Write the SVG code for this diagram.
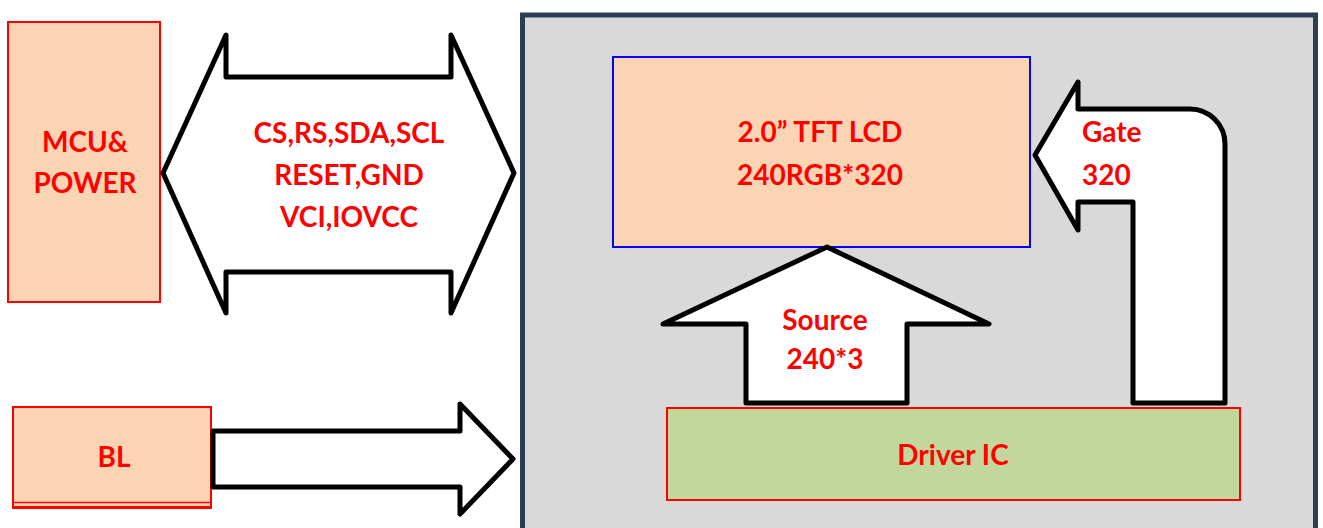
<svg xmlns="http://www.w3.org/2000/svg" width="1323" height="528" viewBox="0 0 1323 528">
<style>
.lbl{font-family:Lato,"Liberation Sans",sans-serif;font-weight:bold;font-size:28px;fill:#FF0000}
.mid{text-anchor:middle}
.box{fill:#FBD4B4;stroke:#FF0000;stroke-width:2}
.arr{fill:#FFFFFF;stroke:#000000;stroke-width:5;stroke-linejoin:round}
</style>
<rect width="1323" height="528" fill="#FFFFFF"/>
<g id="panel">
<rect x="522.5" y="15" width="793" height="530" fill="#D9D9D9" stroke="#2C3E57" stroke-width="5"/>
</g>
<g id="mcu">
<rect class="box" x="8" y="22" width="152" height="280"/>
<text class="lbl mid" x="85" y="152">MCU&amp;</text>
<text class="lbl mid" x="85" y="193">POWER</text>
</g>
<g id="bl">
<rect class="box" x="13" y="407" width="198" height="101"/>
<line x1="13" y1="502.5" x2="211" y2="502.5" stroke="#FF0000" stroke-width="1.5"/>
<line x1="13" y1="507.5" x2="211" y2="507.5" stroke="#FF0000" stroke-width="3"/>
<text class="lbl mid" x="114" y="467">BL</text>
</g>
<g id="lcd">
<rect x="613" y="57" width="417" height="190" fill="#FBD4B4" stroke="#0000FF" stroke-width="2"/>
<text class="lbl mid" x="820" y="142">2.0” TFT LCD</text>
<text class="lbl mid" x="820" y="185">240RGB*320</text>
</g>
<g id="driver">
<rect x="667" y="408" width="573" height="92" fill="#C3D69B" stroke="#FF0000" stroke-width="2"/>
<text class="lbl mid" x="953" y="465">Driver IC</text>
</g>
<g id="connectors">
<g id="bus">
<path class="arr" d="M163,173 L226,35 L226,77 L451,77 L451,35 L514,173 L451,313 L451,272 L226,272 L226,313 Z"/>
<text class="lbl mid" x="349" y="143">CS,RS,SDA,SCL</text>
<text class="lbl mid" x="349" y="185">RESET,GND</text>
<text class="lbl mid" x="349" y="227">VCI,IOVCC</text>
</g>
<g id="bl-arrow">
<path class="arr" d="M213,431 L460,431 L460,404 L513,459 L460,514 L460,487 L213,487 Z"/>
</g>
<g id="source">
<path class="arr" d="M827,247 L989,324 L907,324 L907,403 L746,403 L746,324 L663,324 Z"/>
<text class="lbl mid" x="825" y="330">Source</text>
<text class="lbl mid" x="825" y="369">240*3</text>
</g>
<g id="gate">
<path class="arr" d="M1035,155 L1078,82 L1078,109 L1190,109 A35,35 0 0 1 1225,144 L1225,403 L1133,403 L1133,202 L1078,202 L1078,230 Z"/>
<text class="lbl" x="1082" y="142">Gate</text>
<text class="lbl" x="1082" y="185">320</text>
</g>
</g>
</svg>
